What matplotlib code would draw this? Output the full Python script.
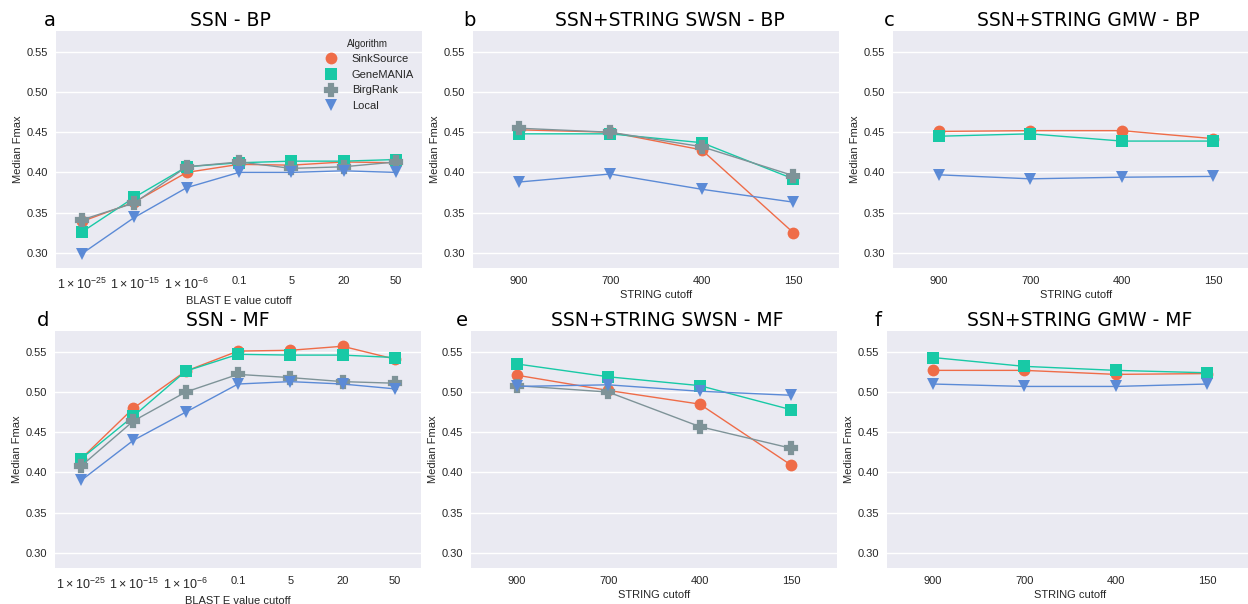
import numpy as np
import matplotlib
matplotlib.use("Agg")
import matplotlib.pyplot as plt

algorithms = ["SinkSource", "GeneMANIA", "BirgRank", "Local"]
colors = ["#ef6c48", "#18c9a6", "#7e9398", "#5b8ad6"]
markers = ["o", "s", "P", "v"]

blast_labels = [r"$\mathdefault{1\times10^{-25}}$", r"$\mathdefault{1\times10^{-15}}$",
                r"$\mathdefault{1\times10^{-6}}$", "0.1", "5", "20", "50"]
string_labels = ["900", "700", "400", "150"]

# Panel a: SSN - BP
ssn_bp = {
    "SinkSource": [0.339, 0.363, 0.400, 0.410, 0.409, 0.413, 0.412],
    "GeneMANIA":  [0.326, 0.369, 0.407, 0.412, 0.414, 0.414, 0.416],
    "BirgRank":   [0.341, 0.362, 0.407, 0.413, 0.405, 0.407, 0.413],
    "Local":      [0.299, 0.344, 0.381, 0.400, 0.400, 0.402, 0.400],
}
# Panel b: SSN+STRING SWSN - BP
swsn_bp = {
    "SinkSource": [0.453, 0.450, 0.428, 0.325],
    "GeneMANIA":  [0.448, 0.448, 0.437, 0.392],
    "BirgRank":   [0.455, 0.450, 0.432, 0.396],
    "Local":      [0.388, 0.398, 0.379, 0.363],
}
# Panel c: SSN+STRING GMW - BP
gmw_bp = {
    "SinkSource": [0.451, 0.452, 0.452, 0.442],
    "GeneMANIA":  [0.445, 0.448, 0.439, 0.439],
    "Local":      [0.397, 0.392, 0.394, 0.395],
}
# Panel d: SSN - MF
ssn_mf = {
    "SinkSource": [0.417, 0.480, 0.526, 0.551, 0.552, 0.557, 0.541],
    "GeneMANIA":  [0.417, 0.470, 0.526, 0.547, 0.546, 0.546, 0.543],
    "BirgRank":   [0.408, 0.464, 0.500, 0.522, 0.518, 0.513, 0.511],
    "Local":      [0.390, 0.440, 0.475, 0.510, 0.513, 0.510, 0.504],
}
# Panel e: SSN+STRING SWSN - MF
swsn_mf = {
    "SinkSource": [0.521, 0.502, 0.485, 0.409],
    "GeneMANIA":  [0.535, 0.519, 0.508, 0.478],
    "BirgRank":   [0.508, 0.500, 0.457, 0.430],
    "Local":      [0.507, 0.509, 0.501, 0.496],
}
# Panel f: SSN+STRING GMW - MF
gmw_mf = {
    "SinkSource": [0.527, 0.527, 0.522, 0.523],
    "GeneMANIA":  [0.543, 0.532, 0.527, 0.524],
    "Local":      [0.510, 0.507, 0.507, 0.510],
}

panels = [
    ("a", "SSN - BP", ssn_bp, blast_labels, "BLAST E value cutoff"),
    ("b", "SSN+STRING SWSN - BP", swsn_bp, string_labels, "STRING cutoff"),
    ("c", "SSN+STRING GMW - BP", gmw_bp, string_labels, "STRING cutoff"),
    ("d", "SSN - MF", ssn_mf, blast_labels, "BLAST E value cutoff"),
    ("e", "SSN+STRING SWSN - MF", swsn_mf, string_labels, "STRING cutoff"),
    ("f", "SSN+STRING GMW - MF", gmw_mf, string_labels, "STRING cutoff"),
]

W, H = 1248, 604
plt.rcParams["font.family"] = ["Liberation Sans", "DejaVu Sans"]
plt.rcParams["mathtext.fontset"] = "custom"
plt.rcParams["mathtext.rm"] = "Liberation Sans"
fig = plt.figure(figsize=(W / 100, H / 100), dpi=100)

# axes boxes in pixels (left, right, top, bottom)
boxes = [
    (56, 422, 31, 268), (473, 839, 31, 268), (893, 1259, 31, 268),
    (55, 421, 331, 568), (471, 837, 331, 568), (887, 1253, 331, 568),
]
letter_pos = [(50, 20), (469, 20), (889, 20), (43, 320), (462, 320), (878, 320)]
title_pos = [(230, 20), (670, 20), (1088, 20), (228, 320), (667, 320), (1080, 320)]


def marker_style(col, mk):
    if mk == "P":
        return dict(ms=8.5, markeredgewidth=1.6, markeredgecolor=col)
    return dict(ms=8.5, markeredgewidth=0)


for i, (letter, title, data, xlabels, xlabel) in enumerate(panels):
    l, r, t, b = boxes[i]
    ax = fig.add_axes([l / W, 1 - b / H, (r - l) / W, (b - t) / H])
    ax.set_facecolor("#EAEAF2")
    for s in ax.spines.values():
        s.set_visible(False)
    ax.grid(axis="y", color="white", lw=1.0)
    ax.set_axisbelow(True)
    x = np.arange(len(xlabels))
    for alg, col, mk in zip(algorithms, colors, markers):
        if alg not in data:
            continue
        ax.plot(x, data[alg], color=col, lw=1.0, marker=mk, label=alg,
                **marker_style(col, mk))
    ax.set_xlim(-0.5, len(xlabels) - 0.5)
    ax.set_ylim(0.281, 0.576)
    ax.set_yticks([0.30, 0.35, 0.40, 0.45, 0.50, 0.55])
    ax.set_yticklabels(["0.30", "0.35", "0.40", "0.45", "0.50", "0.55"])
    ax.set_xticks(x)
    ax.set_xticklabels(xlabels)
    ax.tick_params(length=0, labelsize=8, colors="#262626", pad=6)
    if xlabels is blast_labels:
        for lbl in ax.get_xticklabels()[:3]:
            lbl.set_fontsize(9)
    ax.set_xlabel(xlabel, fontsize=8, color="#262626", labelpad=3)
    ax.set_ylabel("Median Fmax", fontsize=8, color="#262626", labelpad=2)
    fig.text(letter_pos[i][0] / W, 1 - letter_pos[i][1] / H, letter, fontsize=14,
             family="DejaVu Sans", ha="center", va="center")
    fig.text(title_pos[i][0] / W, 1 - title_pos[i][1] / H, title, fontsize=13.5,
             family="DejaVu Sans", ha="center", va="center")
    if i == 0:
        handles = [plt.Line2D([], [], color=c, marker=m, ls="none", **marker_style(c, m))
                   for c, m in zip(colors, markers)]
        leg = ax.legend(handles, algorithms, title="Algorithm", loc="upper right",
                        frameon=False, fontsize=8, title_fontsize=7,
                        handletextpad=0.9, labelspacing=0.5, borderaxespad=0.4,
                        borderpad=0.3)
        for txt in leg.get_texts():
            txt.set_color("#262626")
        leg.get_title().set_color("#262626")

fig.savefig("out.png", dpi=100)
